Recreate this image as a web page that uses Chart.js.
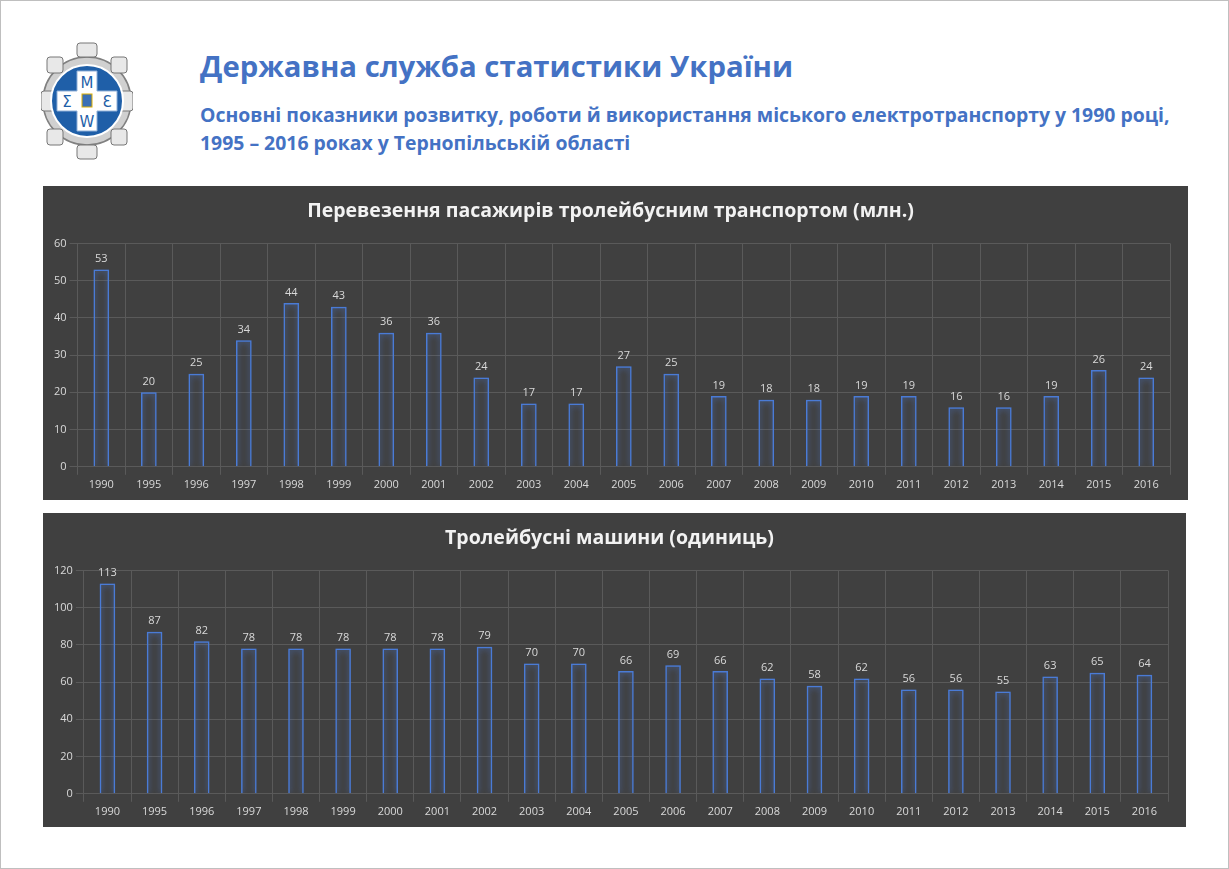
<!DOCTYPE html>
<html><head><meta charset="utf-8">
<script src="https://cdn.jsdelivr.net/npm/chart.js@4"></script>
<style>
body{margin:0;background:#fff;font-family:"Open Sans",sans-serif;}
#page{position:absolute;left:0;top:0;width:1227px;height:867px;border:1px solid #bfbfbf;background:#fff;}
.hd{position:absolute;color:#4472C4;font-weight:bold;}
.box{position:absolute;background:#404040;}
.box canvas{display:block}
</style></head><body>
<div id="page">
<svg style="position:absolute;left:40px;top:40px" width="92" height="120" viewBox="0 0 92 120">
 <g fill="#d0d0d0" stroke="#808080" stroke-width="1.5">
  <circle cx="46" cy="60" r="44"/>
 </g>
 <g fill="#e8e8e8" stroke="#777">
  <rect x="36" y="2" width="20" height="14" rx="3"/><rect x="36" y="104" width="20" height="14" rx="3"/>
  <rect x="0" y="50" width="14" height="20" rx="3"/><rect x="78" y="50" width="14" height="20" rx="3"/>
  <rect x="6" y="16" width="16" height="16" rx="3"/><rect x="70" y="16" width="16" height="16" rx="3"/>
  <rect x="6" y="88" width="16" height="16" rx="3"/><rect x="70" y="88" width="16" height="16" rx="3"/>
 </g>
 <circle cx="46" cy="60" r="36" fill="#1f5fa8" stroke="#fff" stroke-width="2"/>
 <path d="M36 30h20v20h20v20h-20v20h-20v-20h-20v-20h20z" fill="#fff" stroke="#8fb0d8"/>
 <g font-family="DejaVu Sans" font-size="15" fill="#1f5fa8" text-anchor="middle">
  <text x="46" y="47">M</text><text x="46" y="86">W</text><text x="26" y="66">Σ</text><text x="66" y="66">Ɛ</text>
 </g>
 <rect x="41" y="53" width="10" height="13" fill="#3a6fb5" stroke="#e0b000"/>
</svg>
<div class="hd" style="left:199px;top:45px;font-size:29.3px;">Державна служба статистики України</div>
<div class="hd" style="left:199px;top:100px;font-size:19.4px;line-height:28px;">Основні показники розвитку, роботи й використання міського електротранспорту у 1990 році,<br>1995 – 2016 роках у Тернопільській області</div>
<div class="box" style="left:42px;top:185px;width:1145px;height:314px"><canvas id="c1"></canvas></div>
<div class="box" style="left:42px;top:512px;width:1143px;height:314px"><canvas id="c2"></canvas></div>
</div>
<script>
const years=["1990","1995","1996","1997","1998","1999","2000","2001","2002","2003","2004","2005","2006","2007","2008","2009","2010","2011","2012","2013","2014","2015","2016"];
const passengers=[53,20,25,34,44,43,36,36,24,17,17,27,25,19,18,18,19,19,16,16,19,26,24];
const trolleybuses=[113,87,82,78,78,78,78,78,79,70,70,66,69,66,62,58,62,56,56,55,63,65,64];
const title1="Перевезення пасажирів тролейбусним транспортом (млн.)";
const title2="Тролейбусні машини (одиниць)";
const labelsPlugin={id:'lbl',afterDatasetsDraw(ch){const c=ch.ctx;c.save();c.fillStyle='#d9d9d9';c.font='11px "Open Sans"';c.textAlign='center';c.textBaseline='bottom';
 ch.getDatasetMeta(0).data.forEach((b,i)=>c.fillText(ch.data.datasets[0].data[i],b.x,b.y-5));c.restore();}};
const glow={id:'glow',beforeDatasetsDraw(ch){ch.ctx.save();ch.ctx.shadowColor='rgba(80,130,230,0.9)';ch.ctx.shadowBlur=6;},afterDatasetsDraw(ch){ch.ctx.restore();}};
function make(id,data,title,max,step){
 new Chart(document.getElementById(id),{type:'bar',
  data:{labels:years,datasets:[{data,backgroundColor:'rgba(64,64,64,0)',borderColor:'#4a7bd6',borderWidth:1.5,barPercentage:0.33,categoryPercentage:1}]},
  options:{responsive:false,animation:false,devicePixelRatio:1,
   layout:{padding:{left:8,right:18,top:4,bottom:6}},
   plugins:{legend:{display:false},tooltip:{enabled:false},
    title:{display:true,text:title,color:'#f2f2f2',font:{family:'"Open Sans"',size:19.5,weight:'bold'},padding:{top:10,bottom:20}}},
   scales:{x:{grid:{color:'#5a5a5a',offset:true},border:{color:'#5a5a5a'},ticks:{color:'#d9d9d9',font:{family:'"Open Sans"',size:11}}},
    y:{min:0,max,ticks:{stepSize:step,color:'#d9d9d9',font:{family:'"Open Sans"',size:11}},grid:{color:'#5a5a5a'},border:{display:false}}}},
  plugins:[glow,labelsPlugin]});
}
const c1=document.getElementById('c1');c1.width=1145;c1.height=314;
const c2=document.getElementById('c2');c2.width=1143;c2.height=314;
make('c1',passengers,title1,60,10);
make('c2',trolleybuses,title2,120,20);
</script>
</body></html>
